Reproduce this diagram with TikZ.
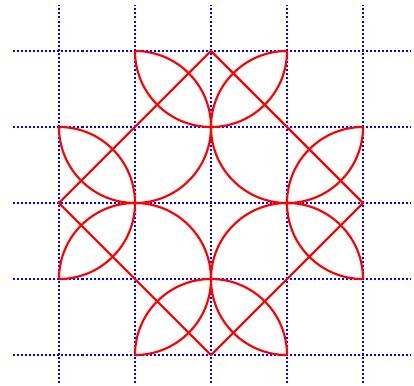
\documentclass[tikz,border=0pt]{standalone}
\begin{document}
\begin{tikzpicture}[x=1cm,y=1cm,
  gridline/.style={blue, line width=0.75pt, dash pattern=on 0.75pt off 0.75pt},
  redline/.style={red, line width=0.8pt, line join=round}]
\useasboundingbox (-0.776,-0.395) rectangle (4.671,4.671);
% grid
\foreach \i in {0,...,4}{
  \draw[gridline] (-0.6,\i) -- (4.63,\i);
  \draw[gridline] (\i,-0.37) -- (\i,4.6);
}
% named corner points
\coordinate (T) at (2,4);
\coordinate (R) at (4,2);
\coordinate (B) at (2,0);
\coordinate (L) at (0,2);
% diamond
\draw[redline] (T) -- (R) -- (B) -- (L) -- cycle;
% edge semicircles
\draw[redline] (1,4) arc[start angle=180, end angle=360, radius=1];
\draw[redline] (0,3) arc[start angle=90, end angle=-90, radius=1];
\draw[redline] (3,0) arc[start angle=0, end angle=180, radius=1];
\draw[redline] (4,1) arc[start angle=-90, end angle=-270, radius=1];
% three-quarter circles
\draw[redline] (1,4) arc[start angle=90, end angle=-180, radius=1];
\draw[redline] (0,1) arc[start angle=180, end angle=-90, radius=1];
\draw[redline] (3,0) arc[start angle=-90, end angle=-360, radius=1];
\draw[redline] (4,3) arc[start angle=0, end angle=-270, radius=1];
\end{tikzpicture}
\end{document}
